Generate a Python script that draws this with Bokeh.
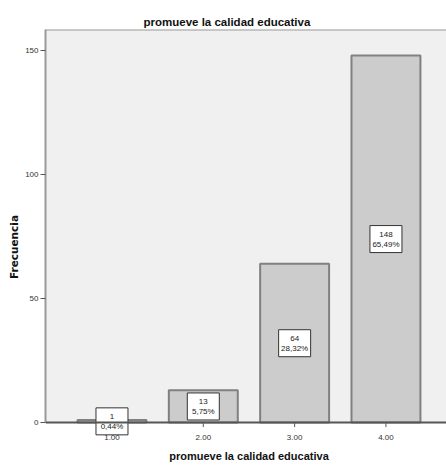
import math
from bokeh.plotting import figure
from bokeh.models import Range1d, FixedTicker, ColumnDataSource, Span, BoxAnnotation
from bokeh.core.properties import value
from bokeh.embed import file_html
from bokeh.resources import INLINE

# data
categories = [1, 2, 3, 4]
counts = [1, 13, 64, 148]
pct_labels = ["0,44%", "5,75%", "28,32%", "65,49%"]
x_tick_labels = ["1.00", "2.00", "3.00", "4.00"]
y_ticks = [0, 50, 100, 150]
title_text = "promueve la calidad educativa"
x_title = "promueve la calidad educativa"
y_title = "Frecuencia"

FONT = "Liberation Sans"
Y_TOP = 158.5
Y_BOTTOM = -16.9

src = ColumnDataSource(dict(
    x=categories,
    top=counts,
    zero=[0] * len(categories),
    mid=[c / 2 for c in counts],
    cnt=[str(c) for c in counts],
    pct=pct_labels,
    tlab=x_tick_labels,
))

p = figure(width=446, height=464, output_backend="svg", toolbar_location=None,
           x_axis_location=None,
           x_range=Range1d(0.272, 4.663), y_range=Range1d(Y_BOTTOM, Y_TOP),
           min_border_left=45, min_border_right=0, min_border_top=29, min_border_bottom=0)

p.background_fill_color = "white"
p.border_fill_color = "white"
p.outline_line_color = None
p.xgrid.grid_line_color = None
p.ygrid.grid_line_color = None

# gray plotting area above zero
p.add_layout(BoxAnnotation(bottom=0, fill_color="#f0f0f0", fill_alpha=1.0,
                           line_color=None, level="underlay"))

p.title.text = title_text
p.title.align = "left"
p.title.offset = 98
p.title.text_font = FONT
p.title.text_font_size = "11.5px"
p.title.text_font_style = "bold"
p.title.text_color = "#111111"
p.title.standoff = 3

# x tick marks (upper half hidden behind bars)
p.scatter(x="x", y="zero", source=src, marker="dash", angle=math.pi / 2, size=9,
          line_color="#555555", line_width=1)

p.vbar(x="x", top="top", width=0.755, source=src,
       fill_color="#cccccc", line_color="#808080", line_width=2)

# x tick labels
p.text(x="x", y="zero", text="tlab", source=src, y_offset=15,
       text_align="center", text_baseline="middle",
       text_font=value(FONT), text_font_size="8px", text_color="#333333")

# SPSS-like value boxes
p.rect(x="x", y="mid", width=32, height=27, width_units="screen", height_units="screen",
       source=src, fill_color="white", line_color="#333333", line_width=1)
p.text(x="x", y="mid", text="cnt", source=src, y_offset=-5,
       text_align="center", text_baseline="middle",
       text_font=value(FONT), text_font_size="8px", text_color="#222222")
p.text(x="x", y="mid", text="pct", source=src, y_offset=5,
       text_align="center", text_baseline="middle",
       text_font=value(FONT), text_font_size="8px", text_color="#222222")

p.add_layout(Span(location=Y_TOP, dimension="width", line_color="#999999", line_width=2))
p.add_layout(Span(location=0, dimension="width", line_color="#555555", line_width=2))

# x axis title (drawn below the zero line, centred on the categories)
p.text(x=[sum(categories) / len(categories)], y=[0], text=[x_title], y_offset=33,
       text_align="center", text_baseline="middle",
       text_font=value(FONT), text_font_size="11px", text_font_style="bold",
       text_color="#111111")

# y axis
p.yaxis.bounds = (0, Y_TOP)
p.yaxis.ticker = FixedTicker(ticks=y_ticks)
p.yaxis.axis_label = y_title
p.yaxis.axis_label_text_font = "DejaVu Sans"
p.yaxis.axis_label_text_font_size = "10.5px"
p.yaxis.axis_label_text_font_style = "bold"
p.yaxis.axis_label_text_color = "#111111"
p.yaxis.axis_label_standoff = 2
p.yaxis.major_label_text_font = FONT
p.yaxis.major_label_text_font_size = "8px"
p.yaxis.major_label_text_color = "#333333"
p.yaxis.major_label_standoff = 2
p.yaxis.axis_line_color = "#999999"
p.yaxis.axis_line_width = 2
p.yaxis.major_tick_line_color = "#555555"
p.yaxis.major_tick_in = 0
p.yaxis.major_tick_out = 5
p.yaxis.minor_tick_line_color = None

open("out.html", "w").write(file_html(p, INLINE))
